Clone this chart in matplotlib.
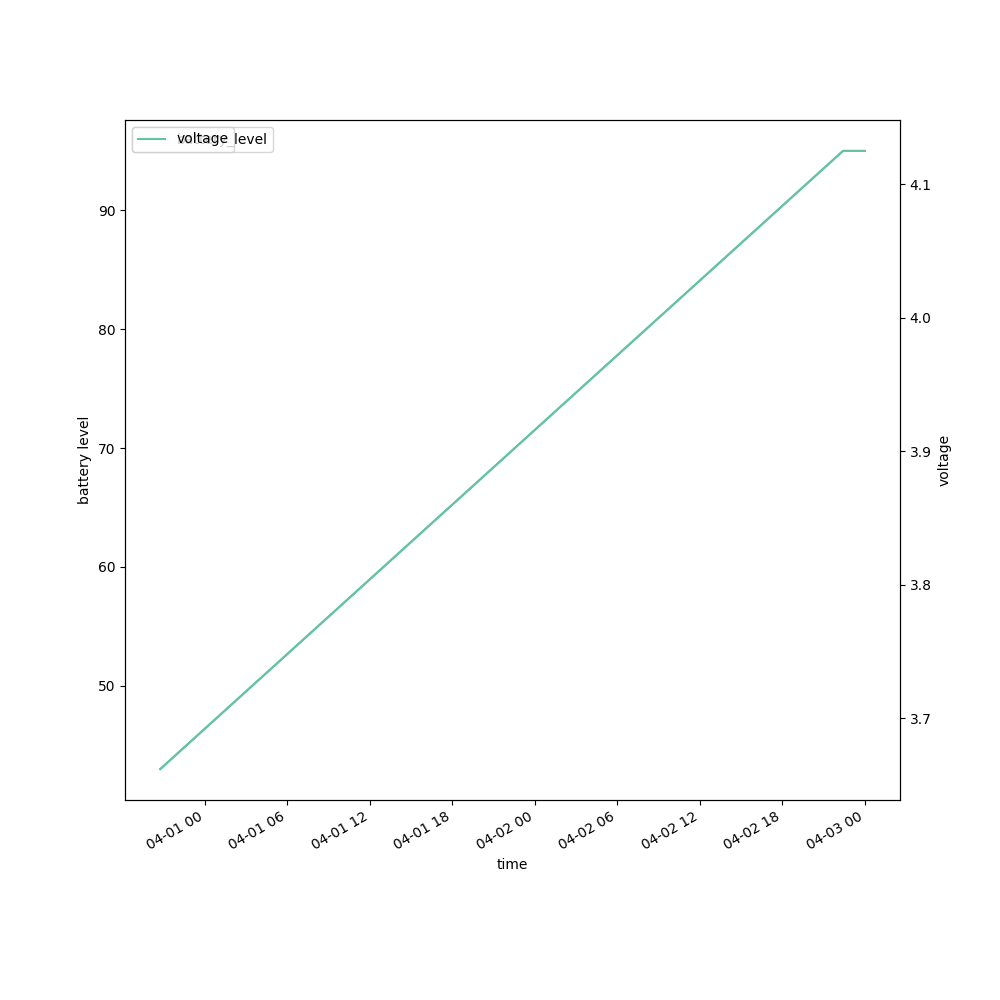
import numpy as np
import pandas as pd
import matplotlib
matplotlib.use("Agg")
import matplotlib.pyplot as plt

# data
times = pd.to_datetime(["2024-03-31 20:45", "2024-04-02 22:25", "2024-04-03 00:00"])
battery_level = [43, 95, 95]
voltage = [3.662, 4.125, 4.125]

color = "#66c2a5"

fig, ax1 = plt.subplots(figsize=(10, 10), dpi=100)
ax1.plot(times, battery_level, color=color, label="battery_level")
ax1.set_xlabel("time")
ax1.set_ylabel("battery level")
ax1.legend(loc="upper left")

ax2 = ax1.twinx()
ax2.plot(times, voltage, color=color, label="voltage")
ax2.set_ylabel("voltage")
ax2.legend(loc="upper left")

fig.autofmt_xdate()
plt.savefig("out.png")
